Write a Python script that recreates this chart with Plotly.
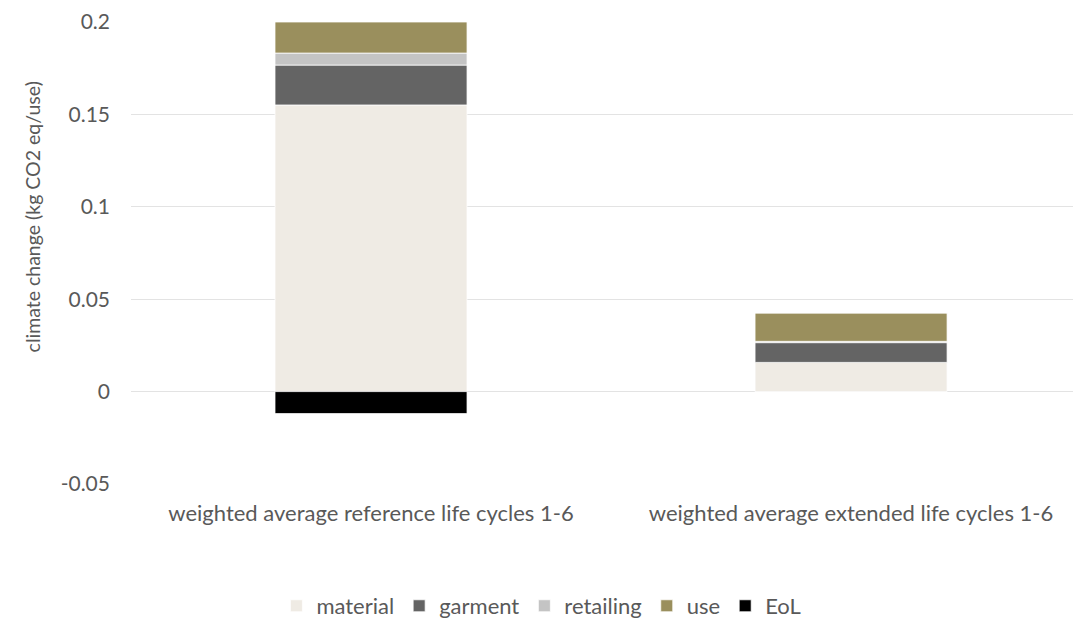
import plotly.graph_objects as go

categories = ["weighted average reference life cycles 1-6",
              "weighted average extended life cycles 1-6"]
material = [0.1551, 0.0158]
garment = [0.0216, 0.0107]
retailing = [0.0065, 0.0007]
use = [0.0168, 0.0154]
eol = [-0.0119, 0.0]

series = [("material", material, "#EFEBE4"),
          ("garment", garment, "#646464"),
          ("retailing", retailing, "#C4C4C4"),
          ("use", use, "#9A8F5D"),
          ("EoL", eol, "#000000")]

fig = go.Figure()
for name, vals, col in series:
    fig.add_trace(go.Bar(x=categories, y=vals, name=name, width=0.4,
                         marker=dict(color=col, line=dict(color="#FFFFFF", width=0.75))))

font = "Lato, Open Sans, sans-serif"
# page body has an 8px default margin, so the figure is 8px smaller each way
fig.update_layout(
    barmode="relative",
    width=1073, height=610,
    paper_bgcolor="white", plot_bgcolor="white",
    margin=dict(l=123, r=0, t=14, b=134, autoexpand=False),
    font=dict(family=font, size=21, color="#595959"),
    showlegend=True,
    legend=dict(orientation="h", x=0.432, xanchor="center", y=-0.264, yanchor="middle",
                font=dict(size=22, color="#595959"), traceorder="normal",
                itemwidth=30),
    xaxis=dict(range=[-0.5, 1.479], showgrid=False, showline=False, zeroline=False,
               ticks="", tickfont=dict(size=22, color="#595959"), ticklabelstandoff=14),
    yaxis=dict(range=[-0.05, 0.2], tickvals=[-0.05, 0, 0.05, 0.1, 0.15, 0.2],
               ticktext=["-0.05", "0", "0.05", "0.1", "0.15", "0.2"],
               showgrid=True, gridcolor="#E3E3E3", gridwidth=1, zeroline=True,
               zerolinecolor="#E3E3E3", zerolinewidth=1, showline=False,
               tickfont=dict(size=21, color="#595959"), ticklabelstandoff=20),
    annotations=[dict(text="climate change (kg CO2 eq/use)", textangle=-90,
                      xref="paper", yref="paper", x=-0.1042, y=0.577,
                      xanchor="center", yanchor="middle", showarrow=False,
                      font=dict(size=19.5, color="#595959"))],
)
fig.write_html("out.html")
